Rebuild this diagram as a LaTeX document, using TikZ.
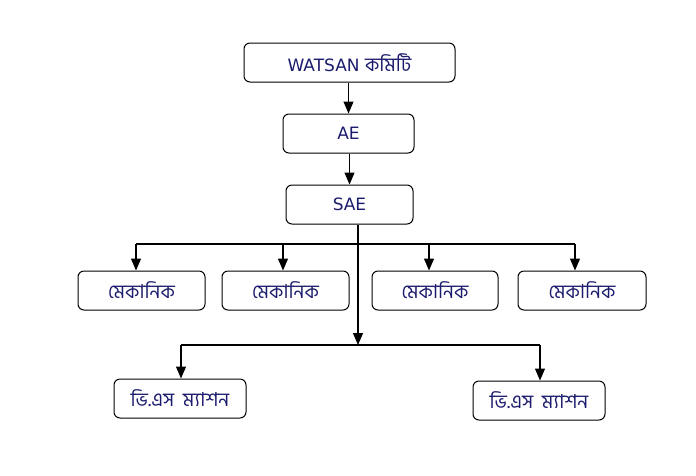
\documentclass[tikz,border=0pt]{standalone}
\usepackage{fontspec}
\setmainfont{DejaVu Sans}
\newfontfamily\bn[Script=Bengali,Scale=1.13]{Hind Siliguri}
\usetikzlibrary{arrows.meta}
\definecolor{navy}{RGB}{28,28,110}
\tikzset{
  box/.style={draw=black, line width=1pt, rounded corners=6pt, fill=white,
    text=navy, font=\fontsize{17}{20}\selectfont, inner sep=0pt,
    minimum height=39pt},
  arr/.style={line width=1.1pt, -{Triangle[length=12pt,width=10pt]}},
  ln/.style={line width=1.1pt}
}
\begin{document}
\begin{tikzpicture}[x=1pt,y=-1pt]
\useasboundingbox (0,0) rectangle (696,475);
\node[box, minimum width=211pt] (w) at (349.5,62.5) {WATSAN {\bn কমিটি}};
\node[box, minimum width=131pt] (ae) at (348.5,133.5) {AE};
\node[box, minimum width=127pt] (sae) at (349.5,204.5) {SAE};
\node[box, minimum width=127pt] (m1) at (141.5,290.5) {\bn মেকানিক};
\node[box, minimum width=127pt] (m2) at (285.5,290.5) {\bn মেকানিক};
\node[box, minimum width=126pt] (m3) at (435,290.5) {\bn মেকানিক};
\node[box, minimum width=128pt] (m4) at (582,290.5) {\bn মেকানিক};
\node[box, minimum width=132pt] (v1) at (180,398.5) {\bn ভি.এস~~ম্যাশন};
\node[box, minimum width=132pt] (v2) at (539,400.5) {\bn ভি.এস~~ম্যাশন};
\coordinate (t) at (358,244);
\coordinate (b) at (358,345);
\coordinate (a1) at (136,244);
\coordinate (a2) at (283,244);
\coordinate (a3) at (429,244);
\coordinate (a4) at (575,244);
\coordinate (c1) at (181,345);
\coordinate (c2) at (540,345);
\draw[arr] (w.south -| ae.north) -- (ae.north);
\draw[arr] (ae.south -| sae.north) -- (sae.north);
\draw[arr] (sae.south -| t) -- (b);
\draw[ln] (a1) -- (a4);
\draw[arr] (a1) -- (a1 |- m1.north);
\draw[arr] (a2) -- (a2 |- m2.north);
\draw[arr] (a3) -- (a3 |- m3.north);
\draw[arr] (a4) -- (a4 |- m4.north);
\draw[ln] (c1) -- (c2);
\draw[arr] (c1) -- (c1 |- v1.north);
\draw[arr] (c2) -- (c2 |- v2.north);
\end{tikzpicture}
\end{document}
